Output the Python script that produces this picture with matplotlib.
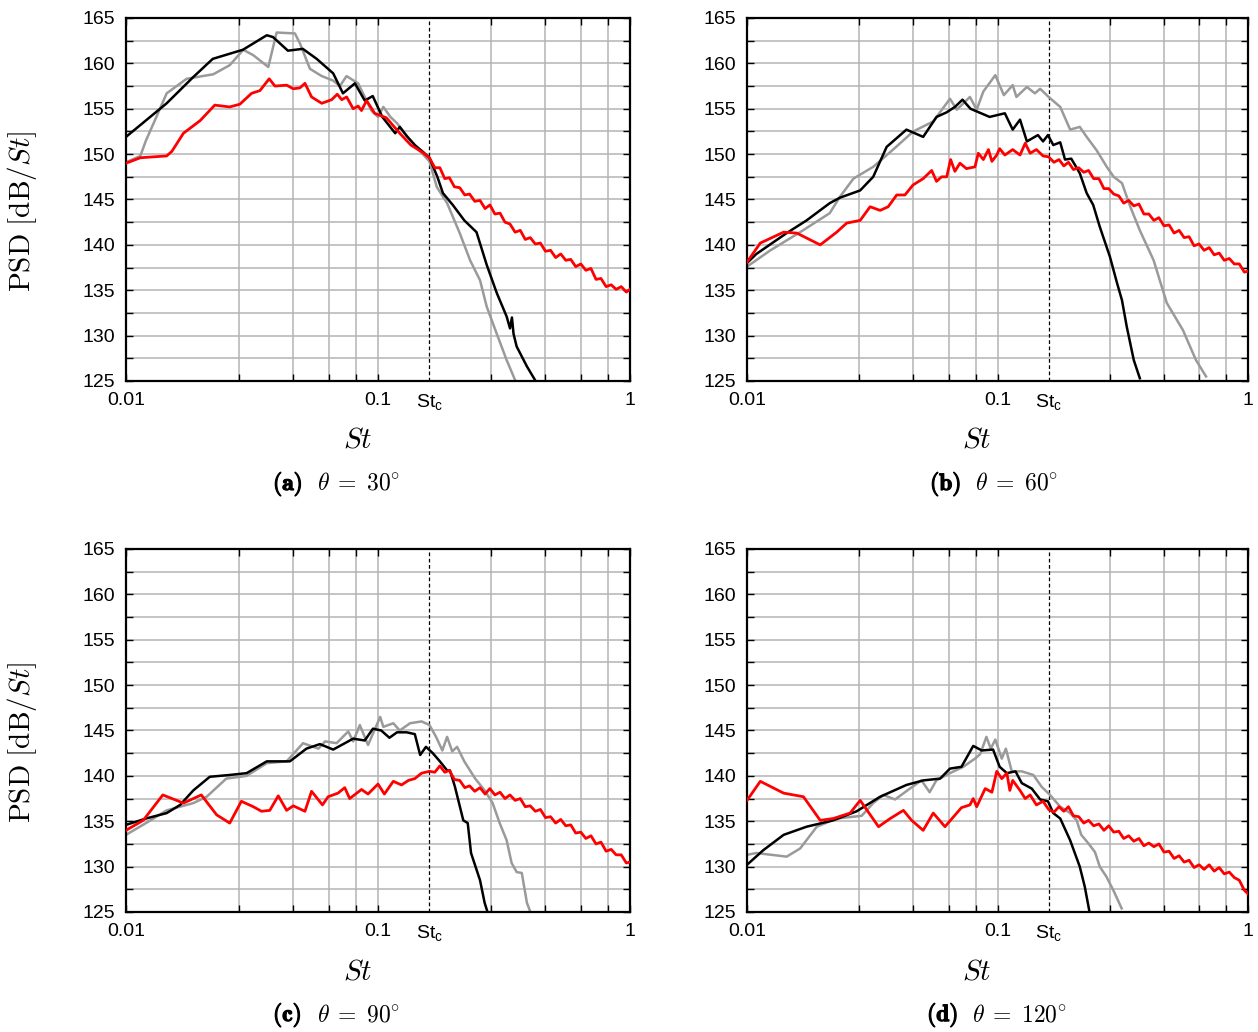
import matplotlib
matplotlib.use('Agg')
from matplotlib import pyplot as plt
from matplotlib import patheffects
from matplotlib.ticker import FixedLocator, NullFormatter

plt.rcParams['font.family'] = ['Liberation Sans', 'DejaVu Sans']
plt.rcParams['mathtext.fontset'] = 'cm'
plt.rcParams['mathtext.rm'] = 'Liberation Sans'
plt.rcParams['mathtext.it'] = 'Liberation Sans:italic'
plt.rcParams['mathtext.bf'] = 'Liberation Sans:bold'

st_c = 0.16

# high frequency St grid shared by the red curves
hf_st = [0.160, 0.168, 0.176, 0.184, 0.192, 0.201, 0.211, 0.221, 0.231, 0.242, 0.254, 0.266, 0.278, 0.291,
         0.305, 0.319, 0.334, 0.350, 0.367, 0.384, 0.402, 0.421, 0.441, 0.462, 0.484, 0.507, 0.531, 0.556,
         0.582, 0.609, 0.638, 0.668, 0.700, 0.733, 0.767, 0.804, 0.842, 0.881, 0.923, 0.967, 1.0]

# ---- (a) theta = 30 ----
a_black_st = [0.01, 0.0145, 0.0185, 0.0221, 0.0291, 0.0362, 0.0383, 0.0439, 0.0503, 0.0571, 0.0664, 0.0726,
              0.081, 0.0886, 0.0953, 0.104, 0.117, 0.122, 0.13, 0.14, 0.15, 0.16, 0.172, 0.181, 0.198, 0.22,
              0.246, 0.27, 0.296, 0.324, 0.334, 0.34, 0.345, 0.355, 0.39, 0.42]
a_black_psd = [151.9, 155.6, 158.5, 160.5, 161.5, 163.1, 162.9, 161.4, 161.6, 160.5, 158.9, 156.7,
               157.8, 155.9, 156.4, 154.1, 152.3, 153.0, 152.0, 151.0, 150.3, 149.6, 147.5, 145.7, 144.4, 142.7,
               141.4, 137.8, 134.7, 132.1, 130.8, 132.0, 130.2, 128.8, 126.6, 125.1]
a_gray_st = [0.01, 0.0114, 0.012, 0.0132, 0.0145, 0.0174, 0.0222, 0.0258, 0.0292, 0.032, 0.0367, 0.0396, 0.0468,
             0.049, 0.0537, 0.0598, 0.0664, 0.0706, 0.075, 0.0834, 0.0886, 0.0941, 0.1, 0.105, 0.112, 0.119,
             0.13, 0.145, 0.16, 0.171, 0.188, 0.211, 0.232, 0.254, 0.27, 0.296, 0.324, 0.35]
a_gray_psd = [149.1, 149.8, 151.5, 154.1, 156.7, 158.3, 158.8, 159.8, 161.5, 160.9, 159.6, 163.4, 163.3,
              162.2, 159.4, 158.6, 158.1, 157.5, 158.6, 157.8, 156.3, 154.8, 154.1, 155.2, 154.1, 153.4,
              152.0, 150.5, 149.2, 146.4, 144.6, 141.3, 138.3, 136.1, 133.2, 130.2, 127.3, 125.1]
a_red_st = [0.01, 0.0114, 0.0145, 0.0152, 0.0169, 0.0197, 0.0225, 0.0258, 0.0283, 0.0315, 0.034, 0.037, 0.039,
            0.0434, 0.0461, 0.049, 0.0513, 0.0545, 0.0598, 0.0655, 0.0689, 0.0718, 0.0751, 0.0797, 0.0834,
            0.086, 0.0901, 0.097, 0.108, 0.122, 0.135, 0.15] + hf_st
a_red_psd = [149.0, 149.6, 149.8, 150.3, 152.3, 153.7, 155.4, 155.2, 155.5, 156.7, 157.0, 158.3, 157.5,
             157.6, 157.2, 157.3, 157.8, 156.3, 155.6, 156.0, 156.6, 156.0, 156.3, 155.0, 155.3,
             154.8, 155.9, 154.5, 154.0, 152.3, 151.0, 150.2,
             149.6, 148.5, 148.5, 147.3, 147.4, 146.4, 146.3, 145.5, 145.6, 144.8, 144.9, 144.0, 144.4, 143.4,
             143.5, 142.5, 142.3, 141.4, 141.6, 140.6, 140.8, 140.1, 140.2, 139.3, 139.4, 138.6, 139.0, 138.3,
             138.4, 137.6, 137.9, 137.2, 137.4, 136.2, 136.3, 135.4, 135.6, 135.1, 135.4, 134.8, 135.1]

# ---- (b) theta = 60 ----
b_black_st = [0.01, 0.0109, 0.0144, 0.0173, 0.0214, 0.0235, 0.0283, 0.0319, 0.0361, 0.0433, 0.0505, 0.0571,
              0.0626, 0.0676, 0.0725, 0.078, 0.093, 0.107, 0.115, 0.123, 0.131, 0.145, 0.152, 0.159, 0.167,
              0.178, 0.186, 0.197, 0.213, 0.227, 0.241, 0.256, 0.281, 0.3, 0.314, 0.328, 0.35, 0.37]
b_black_psd = [138.0, 139.0, 141.3, 142.7, 144.6, 145.2, 146.0, 147.5, 150.8, 152.7, 151.9, 154.1,
               154.6, 155.2, 156.0, 155.0, 154.1, 154.5, 152.7, 153.8, 151.4, 152.1, 151.4, 152.1, 151.0,
               151.3, 149.4, 149.5, 147.9, 145.7, 144.4, 142.0, 138.7, 135.8, 133.9, 131.0, 127.3, 125.3]
b_gray_st = [0.01, 0.0124, 0.0163, 0.0214, 0.0235, 0.0266, 0.0319, 0.0383, 0.0461, 0.0554, 0.0646, 0.0688,
             0.0776, 0.0826, 0.0878, 0.098, 0.106, 0.115, 0.119, 0.131, 0.141, 0.148, 0.16, 0.178, 0.195,
             0.213, 0.227, 0.249, 0.273, 0.291, 0.314, 0.339, 0.37, 0.42, 0.474, 0.55, 0.62, 0.68]
b_gray_psd = [137.6, 139.4, 141.4, 143.5, 145.3, 147.3, 148.6, 150.5, 152.5, 153.6, 156.1, 154.9,
              156.3, 154.9, 156.9, 158.7, 156.5, 157.6, 156.3, 157.4, 156.7, 157.2, 156.3, 155.2, 152.7,
              153.0, 151.9, 150.4, 148.6, 147.5, 146.8, 144.2, 141.6, 138.3, 133.6, 130.6, 127.3, 125.5]
b_red_st = [0.01, 0.0113, 0.014, 0.0158, 0.0196, 0.0228, 0.025, 0.0283, 0.031, 0.034, 0.0366, 0.0396, 0.0427,
            0.046, 0.0505, 0.0546, 0.0571, 0.0598, 0.0627, 0.065, 0.0676, 0.0708, 0.0752, 0.0813, 0.0838,
            0.0878, 0.092, 0.095, 0.0993, 0.102, 0.107, 0.115, 0.123, 0.129, 0.135, 0.143, 0.152] + hf_st
b_red_psd = [138.1, 140.2, 141.4, 141.3, 140.0, 141.4, 142.4, 142.7, 144.2, 143.8, 144.2, 145.5, 145.5,
             146.6, 147.3, 148.2, 147.0, 147.5, 147.5, 149.4, 148.1, 149.0, 148.4, 148.6, 150.1,
             149.4, 150.5, 149.2, 149.9, 150.6, 149.9, 150.5, 149.9, 151.2, 150.1, 150.5, 149.8,
             149.7, 149.1, 149.4, 148.7, 149.1, 148.3, 148.5, 148.0, 148.2, 147.3, 147.3, 146.2, 146.2, 145.6,
             145.4, 144.6, 144.9, 144.3, 144.5, 143.4, 143.4, 142.7, 143.0, 142.1, 142.2, 141.3, 141.6, 140.8,
             140.9, 139.9, 140.1, 139.4, 139.7, 138.9, 139.1, 138.3, 138.5, 137.9, 137.9, 137.0, 137.1]

# ---- (c) theta = 90 ----
c_black_st = [0.01, 0.012, 0.0145, 0.0164, 0.0185, 0.0215, 0.0258, 0.0301, 0.0362, 0.0447, 0.052, 0.0588,
              0.0664, 0.0797, 0.0886, 0.0955, 0.103, 0.111, 0.119, 0.13, 0.14, 0.147, 0.155, 0.165, 0.176,
              0.188, 0.193, 0.202, 0.218, 0.227, 0.234, 0.254, 0.265, 0.272]
c_black_psd = [134.6, 135.3, 135.9, 136.8, 138.4, 139.9, 140.1, 140.3, 141.6, 141.6, 143.0, 143.5,
               142.9, 144.1, 143.9, 145.2, 145.0, 144.2, 144.8, 144.8, 144.6, 142.3, 143.2, 142.5, 141.6,
               140.6, 140.6, 138.8, 135.1, 134.8, 131.5, 128.5, 126.0, 125.0]
c_gray_st = [0.01, 0.012, 0.0145, 0.0185, 0.0209, 0.025, 0.0301, 0.0362, 0.0434, 0.0504, 0.058, 0.0617, 0.0685,
             0.0762, 0.0797, 0.0847, 0.0913, 0.102, 0.105, 0.115, 0.122, 0.134, 0.149, 0.16, 0.17, 0.18, 0.188,
             0.197, 0.206, 0.22, 0.243, 0.265, 0.285, 0.304, 0.324, 0.339, 0.355, 0.372, 0.39, 0.4]
c_gray_psd = [133.5, 134.8, 136.2, 137.0, 137.7, 139.7, 140.0, 141.4, 141.6, 143.6, 143.0, 143.8, 143.6,
              144.9, 143.8, 145.6, 143.4, 146.5, 145.4, 145.8, 145.0, 145.8, 146.0, 145.6, 144.3, 142.8, 144.3,
              142.7, 143.2, 141.6, 139.7, 138.4, 137.0, 134.8, 132.9, 130.4, 129.4, 129.3, 126.0, 125.2]
c_red_st = [0.01, 0.0117, 0.014, 0.0169, 0.0199, 0.0229, 0.0258, 0.0287, 0.032, 0.0345, 0.0372, 0.0402, 0.0434,
            0.0461, 0.0513, 0.0545, 0.0602, 0.0634, 0.0694, 0.0738, 0.0772, 0.086, 0.0913, 0.1, 0.106, 0.115,
            0.124, 0.132, 0.14, 0.149] + hf_st
c_red_psd = [134.0, 135.1, 137.9, 137.0, 137.9, 135.7, 134.8, 137.2, 136.6, 136.1, 136.2, 137.8, 136.2,
             136.7, 136.1, 138.3, 136.8, 137.7, 138.1, 138.7, 137.5, 138.5, 138.0, 139.1, 138.0, 139.4,
             139.0, 139.5, 139.7, 140.3,
             140.5, 140.4, 141.1, 140.4, 140.6, 139.6, 139.5, 138.7, 138.9, 138.3, 138.7, 138.0, 138.6, 137.9,
             138.2, 137.5, 137.9, 137.3, 137.5, 136.6, 136.7, 136.1, 136.3, 135.4, 135.5, 134.8, 135.2, 134.5,
             134.6, 133.7, 133.8, 133.1, 133.4, 132.5, 132.7, 131.7, 131.9, 131.3, 131.3, 130.4, 130.5]

# ---- (d) theta = 120 ----
d_black_st = [0.01, 0.0116, 0.014, 0.0173, 0.0221, 0.0274, 0.034, 0.0433, 0.0505, 0.059, 0.0646, 0.0718, 0.08,
              0.0866, 0.096, 0.102, 0.109, 0.118, 0.125, 0.137, 0.148, 0.159, 0.167, 0.178, 0.195, 0.213,
              0.223, 0.233]
d_black_psd = [130.2, 131.8, 133.5, 134.4, 135.1, 136.1, 137.7, 139.0, 139.5, 139.7, 140.8, 141.0, 143.3,
               142.8, 142.9, 141.0, 140.3, 140.5, 139.2, 138.6, 137.4, 137.2, 135.9, 135.3, 132.9, 130.0,
               127.8, 125.0]
d_gray_st = [0.01, 0.0109, 0.0144, 0.0163, 0.019, 0.0228, 0.0287, 0.0319, 0.035, 0.039, 0.0447, 0.0497, 0.0536,
             0.057, 0.0646, 0.073, 0.0813, 0.0853, 0.0903, 0.094, 0.098, 0.104, 0.108, 0.114, 0.125, 0.139,
             0.15, 0.162, 0.178, 0.195, 0.207, 0.216, 0.23, 0.245, 0.256, 0.272, 0.29, 0.313]
d_gray_psd = [131.3, 131.5, 131.1, 132.0, 134.4, 135.3, 135.6, 137.0, 137.9, 137.4, 138.6, 139.5, 138.2,
              139.5, 140.3, 141.0, 141.9, 142.4, 144.3, 143.0, 144.0, 141.9, 143.0, 140.5, 140.5, 140.1,
              138.8, 137.9, 136.6, 135.9, 135.1, 133.5, 132.6, 131.6, 130.0, 128.9, 127.4, 125.4]
d_red_st = [0.01, 0.0113, 0.014, 0.0168, 0.0196, 0.0221, 0.0258, 0.0283, 0.0335, 0.0373, 0.0421, 0.0454, 0.0505,
            0.0554, 0.0617, 0.0718, 0.0776, 0.08, 0.0826, 0.0893, 0.095, 0.0993, 0.104, 0.109, 0.112, 0.115,
            0.123, 0.129, 0.135, 0.143, 0.152] + hf_st
d_red_psd = [137.3, 139.4, 138.1, 137.7, 135.1, 135.3, 135.9, 137.3, 134.4, 135.3, 136.2, 135.1, 134.0,
             135.9, 134.4, 136.5, 136.8, 137.5, 136.6, 138.6, 138.2, 140.5, 139.7, 140.3, 138.4, 139.5,
             138.4, 137.5, 137.9, 136.8, 137.2,
             136.3, 136.0, 136.6, 136.1, 136.6, 135.6, 135.5, 134.8, 135.1, 134.5, 134.7, 134.0, 134.5, 133.8,
             133.9, 133.1, 133.4, 132.8, 133.1, 132.3, 132.6, 132.2, 132.5, 131.6, 131.7, 130.9, 131.2, 130.5,
             130.7, 129.9, 130.2, 129.7, 130.2, 129.5, 129.9, 129.2, 129.4, 128.8, 128.5, 127.4, 127.0]

cap_tags = [r'$\mathbf{(a)}$', r'$\mathbf{(b)}$', r'$\mathbf{(c)}$', r'$\mathbf{(d)}$']
cap_angles = [r'$\theta\;=\;30^{\circ}$', r'$\theta\;=\;60^{\circ}$',
              r'$\theta\;=\;90^{\circ}$', r'$\theta\;=\;120^{\circ}$']
panels = [
    (a_gray_st, a_gray_psd, a_black_st, a_black_psd, a_red_st, a_red_psd),
    (b_gray_st, b_gray_psd, b_black_st, b_black_psd, b_red_st, b_red_psd),
    (c_gray_st, c_gray_psd, c_black_st, c_black_psd, c_red_st, c_red_psd),
    (d_gray_st, d_gray_psd, d_black_st, d_black_psd, d_red_st, d_red_psd),
]

W, H = 1258, 1032
fig = plt.figure(figsize=(W / 100, H / 100), dpi=100)

# axes boxes in pixels: left, top, right, bottom
boxes = [(126, 18, 630, 381), (747, 18, 1248, 381), (126, 549, 630, 912), (747, 549, 1248, 912)]
xlab_pos = [(358, 440), (977, 440), (358, 972), (977, 972)]
tag_pos = [(273, 484), (930, 484), (273, 1015), (927, 1015)]
ang_pos = [(317, 484), (975, 484), (317, 1015), (972, 1015)]

minor_x = [0.028, 0.046, 0.064, 0.082, 0.28, 0.46, 0.64, 0.82]
bold = [patheffects.withStroke(linewidth=0.9, foreground='black')]

for i, (gs, gp, ks, kp, rs, rp) in enumerate(panels):
    l, t, r, b = boxes[i]
    ax = fig.add_axes([l / W, 1 - b / H, (r - l) / W, (b - t) / H])
    ax.set_xscale('log')
    ax.set_xlim(0.01, 1)
    ax.set_ylim(125, 165)

    ax.xaxis.set_major_locator(FixedLocator([0.01, 0.1, 1]))
    ax.xaxis.set_minor_locator(FixedLocator(minor_x))
    ax.xaxis.set_minor_formatter(NullFormatter())
    ax.set_xticklabels(['0.01', '0.1', '1'])
    ax.set_yticks(range(125, 166, 5))
    ax.set_yticks([127.5 + 5 * k for k in range(8)], minor=True)

    ax.grid(True, which='both', color='#b4b4b4', linewidth=1.1, zorder=0)
    ax.set_axisbelow(True)
    ax.tick_params(which='both', direction='in', top=True, right=True, length=5, width=1.0,
                   labelsize=14, pad=8)
    for sp in ax.spines.values():
        sp.set_linewidth(1.6)

    ax.axvline(st_c, color='black', linewidth=0.9, linestyle=(0, (3, 2)), zorder=1)
    ax.annotate(r'$\mathrm{St_c}$', xy=(st_c, 0), xycoords=('data', 'axes fraction'),
                xytext=(0, -8), textcoords='offset points', ha='center', va='top',
                fontsize=14, math_fontfamily='custom')

    ax.plot(gs, gp, color='#9a9a9a', linewidth=1.8, zorder=2)
    ax.plot(ks, kp, color='black', linewidth=1.8, zorder=3)
    ax.plot(rs, rp, color='#ff0000', linewidth=2.0, zorder=4)

    fig.text(xlab_pos[i][0] / W, 1 - xlab_pos[i][1] / H, r'$St$', fontsize=21,
             ha='center', va='center')
    fig.text(tag_pos[i][0] / W, 1 - tag_pos[i][1] / H, cap_tags[i], fontsize=17,
             ha='left', va='center', path_effects=bold)
    fig.text(ang_pos[i][0] / W, 1 - ang_pos[i][1] / H, cap_angles[i], fontsize=17,
             ha='left', va='center')
    if i % 2 == 0:
        fig.text(22 / W, 1 - (t + 193) / H, r'$\mathrm{PSD}\ [\mathrm{dB}/St]$', fontsize=21,
                 rotation=90, ha='center', va='center')

fig.savefig('out.png', dpi=100)
